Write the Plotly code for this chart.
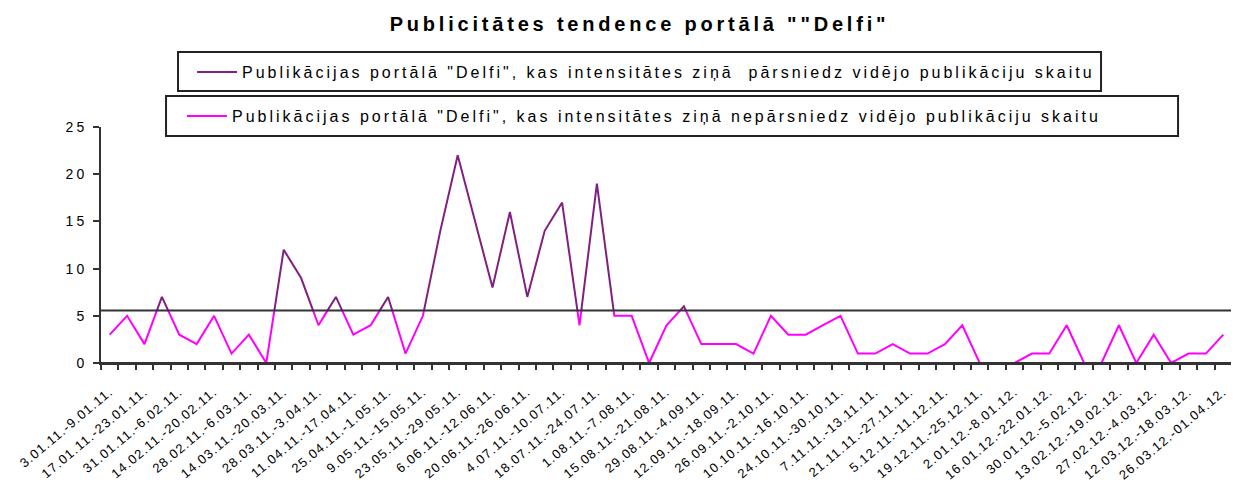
import plotly.graph_objects as go

# ---- data ----
values = [3, 5, 2, 7, 3, 2, 5, 1, 3, 0,
          12, 9, 4, 7, 3, 4, 7, 1, 5, 14,
          22, 15, 8, 16, 7, 14, 17, 4, 19, 5,
          5, 0, 4, 6, 2, 2, 2, 1, 5, 3,
          3, 4, 5, 1, 1, 2, 1, 1, 2, 4,
          0, 0, 0, 1, 1, 4, 0, 0, 4, 0,
          3, 0, 1, 1, 3]
mean_value = 5.55

tick_labels = [
    "3.01.11.-9.01.11.", "17.01.11.-23.01.11.", "31.01.11.-6.02.11.",
    "14.02.11.-20.02.11.", "28.02.11.-6.03.11.", "14.03.11.-20.03.11.",
    "28.03.11.-3.04.11.", "11.04.11.-17.04.11.", "25.04.11.-1.05.11.",
    "9.05.11.-15.05.11.", "23.05.11.-29.05.11.", "6.06.11.-12.06.11.",
    "20.06.11.-26.06.11.", "4.07.11.-10.07.11.", "18.07.11.-24.07.11.",
    "1.08.11.-7.08.11.", "15.08.11.-21.08.11.", "29.08.11.-4.09.11.",
    "12.09.11.-18.09.11.", "26.09.11.-2.10.11.", "10.10.11.-16.10.11.",
    "24.10.11.-30.10.11.", "7.11.11.-13.11.11.", "21.11.11.-27.11.11.",
    "5.12.11.-11.12.11.", "19.12.11.-25.12.11.", "2.01.12.-8.01.12.",
    "16.01.12.-22.01.12.", "30.01.12.-5.02.12.", "13.02.12.-19.02.12.",
    "27.02.12.-4.03.12.", "12.03.12.-18.03.12.", "26.03.12.-01.04.12.",
]
y_ticks = [0, 5, 10, 15, 20, 25]

name_above = 'Publikācijas portālā "Delfi", kas intensitātes ziņā  pārsniedz vidējo publikāciju skaitu'
name_below = 'Publikācijas portālā "Delfi", kas intensitātes ziņā nepārsniedz vidējo publikāciju skaitu'
title_text = 'Publicitātes tendence portālā ""Delfi"'


def spaced(text, px):
    return '<span style="letter-spacing:%gpx">%s</span>' % (px, text)


# ---- split the series at the mean line ----
above_x, above_y, below_x, below_y = [], [], [], []


def add_piece(xs, ys, pts):
    if xs and xs[-1] is not None and xs[-1] == pts[0][0] and ys[-1] == pts[0][1]:
        pts = pts[1:]
    elif xs:
        xs.append(None)
        ys.append(None)
    for px, py in pts:
        xs.append(px)
        ys.append(py)


n = len(values)
for i in range(n - 1):
    a, b = values[i], values[i + 1]
    a_up, b_up = a > mean_value, b > mean_value
    if a_up == b_up:
        if a_up:
            add_piece(above_x, above_y, [(i, a), (i + 1, b)])
        else:
            add_piece(below_x, below_y, [(i, a), (i + 1, b)])
    else:
        xc = i + (mean_value - a) / (b - a)
        if a_up:
            add_piece(above_x, above_y, [(i, a), (xc, mean_value)])
            add_piece(below_x, below_y, [(xc, mean_value), (i + 1, b)])
        else:
            add_piece(below_x, below_y, [(i, a), (xc, mean_value)])
            add_piece(above_x, above_y, [(xc, mean_value), (i + 1, b)])

FONT = "Liberation Sans, Arial, sans-serif"
AX = "#333333"

fig = go.Figure()
fig.add_trace(go.Scatter(x=above_x, y=above_y, mode="lines", name=spaced(name_above, 3.0),
                         line=dict(color="#802080", width=2), legend="legend",
                         showlegend=True))
fig.add_trace(go.Scatter(x=below_x, y=below_y, mode="lines", name=spaced(name_below, 3.0),
                         line=dict(color="#FF00FF", width=2), legend="legend2",
                         showlegend=True))

# mean line and x-axis baseline (drawn above the traces)
fig.add_shape(type="line", xref="paper", yref="y", x0=0, x1=1.007,
              y0=mean_value, y1=mean_value, line=dict(color=AX, width=2), layer="above")
fig.add_shape(type="line", xref="paper", yref="y", x0=0, x1=1,
              y0=0, y1=0, line=dict(color=AX, width=2), layer="above")

# legend frames
fig.add_shape(type="rect", xref="paper", yref="paper", x0=0.0681, x1=0.8842,
              y0=1.1525, y1=1.3178, line=dict(color="#222222", width=2),
              fillcolor="rgba(0,0,0,0)", layer="above")
fig.add_shape(type="rect", xref="paper", yref="paper", x0=0.0575, x1=0.9523,
              y0=0.9619, y1=1.1314, line=dict(color="#222222", width=2),
              fillcolor="rgba(0,0,0,0)", layer="above")

legend_common = dict(
    xanchor="left", yanchor="middle", bgcolor="rgba(0,0,0,0)",
    borderwidth=0, itemwidth=40,
    font=dict(family=FONT, size=16, color="black"),
    orientation="h",
)

# page body has an 8px margin: figure is offset by (8, 8) in the window
fig.update_layout(
    width=1231, height=475,
    margin=dict(l=93, r=7, t=119, b=120, autoexpand=False),
    showlegend=True,
    paper_bgcolor="white", plot_bgcolor="white",
    title=dict(text=spaced(title_text, 3.8), xref="container", x=0.513, xanchor="center",
               yref="container", y=0.966, yanchor="middle",
               font=dict(family=FONT, size=20, color="black", weight="bold")),
    legend=dict(x=0.0805, y=1.233, **legend_common),
    legend2=dict(x=0.0716, y=1.0466, **legend_common),
    xaxis=dict(
        range=[-0.5, n - 0.5],
        tickmode="array",
        tickvals=list(range(0, n, 2)),
        ticktext=[spaced(t, 1.2) for t in tick_labels],
        ticks="",
        tickangle=-40,
        ticklabelstandoff=14,
        automargin=False,
        tickfont=dict(family=FONT, size=13, color="black"),
        showline=True, linecolor=AX, linewidth=2,
        showgrid=False, zeroline=False,
        minor=dict(tickmode="array", tickvals=[k - 0.5 for k in range(n + 1)],
                   ticks="outside", ticklen=5, tickwidth=2, tickcolor=AX,
                   showgrid=False),
    ),
    yaxis=dict(
        range=[0, 25], tickmode="array", tickvals=y_ticks,
        ticktext=[spaced(str(v), 3) for v in y_ticks],
        ticks="outside", ticklen=6, tickwidth=2, tickcolor=AX,
        ticklabelstandoff=3,
        automargin=False,
        tickfont=dict(family=FONT, size=14, color="black"),
        showline=True, linecolor=AX, linewidth=2,
        showgrid=False, zeroline=False,
    ),
)

fig.write_html("out.html")
